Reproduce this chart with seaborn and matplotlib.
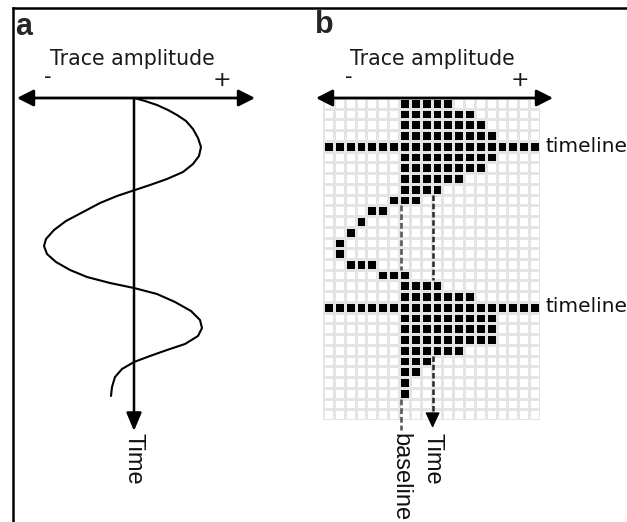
import numpy as np
import pandas as pd
import matplotlib
matplotlib.use("Agg")
import matplotlib.pyplot as plt
from matplotlib.colors import ListedColormap
import seaborn as sns

# ---------------- data ----------------
# panel a: continuous wiggle trace (amplitude offset from the time axis, time)
wiggle_amp = [0, 11, 23, 34, 43, 52, 59, 64, 67, 65, 59, 49, 33, 16, 1,
              -17, -34, -51, -68, -80, -88, -90, -87, -78, -64, -47, -24, 0,
              23, 41, 57, 66, 68, 64, 51, 33, 16, 0, -12, -19, -22, -23]
wiggle_time = [98, 101, 105, 110, 115, 121, 129, 138, 147, 156, 164, 172, 179, 185, 190,
               196, 203, 212, 221, 230, 239, 246, 254, 262, 270, 277, 283, 288,
               294, 302, 311, 320, 328, 336, 344, 350, 356, 362, 369, 377, 387, 396]

# panel b: rasterised trace (first and last filled cell per time sample)
n_cols = 20
trace_first = [7, 7, 7, 7, 7, 7, 7, 7, 7, 6, 4, 3, 2, 1, 1, 2, 5, 7, 7, 7, 7, 7, 7, 7, 7, 7, 7, 7, None, None]
trace_last = [11, 13, 14, 15, 15, 15, 14, 12, 10, 8, 5, 3, 2, 1, 1, 4, 7, 10, 13, 15, 15, 15, 15, 12, 9, 8, 7, 7, None, None]
timeline_rows = [4, 19]
baseline_col = 7.15
time_col = 10.1

# labels
panel_labels = ["a", "b"]
amp_label = "Trace amplitude"
time_label = "Time"
baseline_label = "baseline"
timeline_label = "timeline"

# ---------------- figure ----------------
sns.set_theme(style="white")
plt.rcParams["font.family"] = ["DejaVu Sans"]

W, H = 627, 522
fig = plt.figure(figsize=(W / 100, H / 100), dpi=100)

# grid of panel b
gx0, gx1, gy0, gy1 = 323, 540, 98, 420
ax_b = fig.add_axes([gx0 / W, 1 - gy1 / H, (gx1 - gx0) / W, (gy1 - gy0) / H])

rows = []
for i, (a, b) in enumerate(zip(trace_first, trace_last)):
    r = np.zeros(n_cols)
    if a is not None:
        r[a:b + 1] = 1
    if i in timeline_rows:
        r[:] = 1
    rows.append(r)
M = pd.DataFrame(np.array(rows))
n_rows = len(M)
cw = (gx1 - gx0) / n_cols
ch = (gy1 - gy0) / n_rows

cell_cmap = ListedColormap(["black"])
cell_cmap.set_bad((0, 0, 0, 0))
sns.heatmap(M, mask=(M == 0), cmap=cell_cmap, vmin=0, vmax=1,
            cbar=False, linewidths=0.8, linecolor="#e4e4e4",
            xticklabels=False, yticklabels=False, ax=ax_b)
ax_b.axis("off")
for i in range(n_cols + 1):
    ax_b.vlines(i, 0, n_rows, color="#d4d4d4", lw=0.9, zorder=0.5)
for j in range(n_rows + 1):
    ax_b.hlines(j, 0, n_cols, color="#d4d4d4", lw=0.9, zorder=0.5)
ax_b.set_xlim(0, n_cols)
ax_b.set_ylim(n_rows, 0)

# overlay axes in pixel coordinates
ax0 = fig.add_axes([0, 0, 1, 1])
ax0.patch.set_alpha(0)

# panel a wiggle
df_a = pd.DataFrame({"x": 134 + np.array(wiggle_amp), "t": wiggle_time})
sns.lineplot(data=df_a, x="x", y="t", sort=False, estimator=None,
             color="black", lw=1.5, ax=ax0)

ax0.set_xlim(0, W)
ax0.set_ylim(H, 0)
ax0.axis("off")


def dashed_over_empty(col_pos, y_end, color, lw):
    """dashed vertical line visible only where the raster cells are empty"""
    c = int(col_pos)
    x = gx0 + col_pos * cw
    empty = (M.iloc[:, c].values == 0)
    start = None
    for r in range(n_rows + 1):
        is_empty = r < n_rows and empty[r]
        if is_empty and start is None:
            start = r
        if not is_empty and start is not None:
            y_a = gy0 + start * ch
            y_b = gy0 + r * ch
            if r == n_rows:
                y_b = y_end
            ax0.plot([x, x], [y_a, y_b], color=color, lw=lw,
                     linestyle=(0, (2.2, 1.1)), clip_on=False)
            start = None
    if not empty[-1]:
        ax0.plot([x, x], [gy1, y_end], color=color, lw=lw,
                 linestyle=(0, (2.2, 1.1)), clip_on=False)
    return x


xb = dashed_over_empty(baseline_col, 430, "#5a5a5a", 1.9)
xt = dashed_over_empty(time_col, 416, "#262626", 1.8)
ax0.annotate("", xy=(xt, 428), xytext=(xt, 414),
             arrowprops=dict(arrowstyle="-|>,head_length=0.6,head_width=0.28",
                             mutation_scale=16, color="black", lw=1,
                             shrinkA=0, shrinkB=0))

arrow2 = dict(arrowstyle="<|-|>,head_length=0.55,head_width=0.28", mutation_scale=18,
              color="black", lw=2, shrinkA=0, shrinkB=0)
ax0.annotate("", xy=(17, 98), xytext=(255, 98), arrowprops=arrow2)
ax0.annotate("", xy=(316, 98), xytext=(553, 98), arrowprops=arrow2)
ax0.annotate("", xy=(134, 431), xytext=(134, 98),
             arrowprops=dict(arrowstyle="-|>,head_length=0.55,head_width=0.23",
                             mutation_scale=20, color="black", lw=1.8,
                             shrinkA=0, shrinkB=0))

# frame
ax0.plot([12.5, 12.5], [8, H], color="black", lw=1.8, clip_on=False,
         solid_capstyle="projecting")
ax0.plot([12.5, W], [8, 8], color="black", lw=1.8, clip_on=False,
         solid_capstyle="projecting")

# texts
lab_font = dict(fontsize=22, fontweight="bold", family=["Liberation Sans"], va="baseline")
ax0.text(15, 35, panel_labels[0], **lab_font)
ax0.text(315, 33, panel_labels[1], **lab_font)

for cx, mx, px in [(132.5, 48, 222), (432, 349, 520)]:
    ax0.text(cx, 65, amp_label, fontsize=14.8, ha="center", va="baseline", color="#1a1a1a")
    ax0.text(mx, 77, "-", fontsize=15, ha="center", va="center", color="#1a1a1a")
    ax0.text(px, 80, "+", fontsize=16, ha="center", va="center", color="#1a1a1a")

rot_font = dict(fontsize=17, family=["Liberation Sans"], rotation=-90,
                ha="center", va="top", color="#111111")
ax0.text(134, 433, time_label, **rot_font)
ax0.text(xt, 433, time_label, **rot_font)
ax0.text(xb, 433, baseline_label, **rot_font)

for ty in [147, 307]:
    ax0.text(545, ty, timeline_label, fontsize=14.5, ha="left", va="center", color="#111111")

fig.savefig("out.png", dpi=100)
